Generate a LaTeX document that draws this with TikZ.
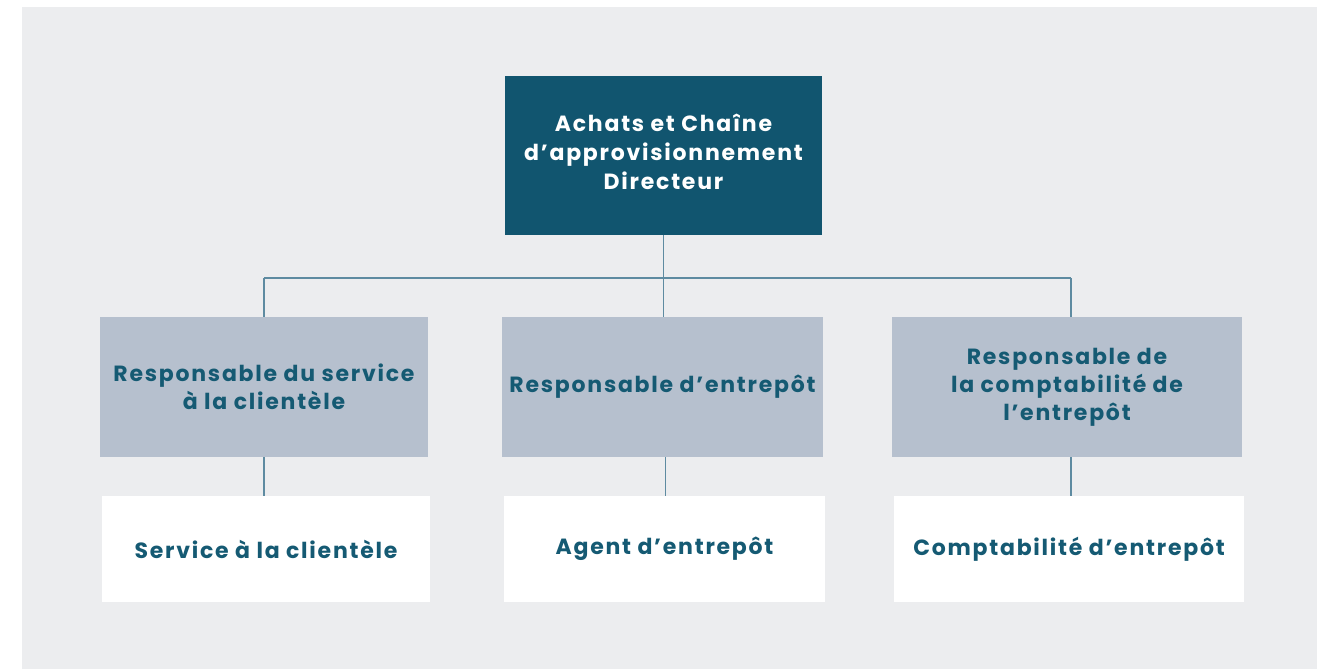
\documentclass[tikz,border=0pt]{standalone}
\usepackage{fontspec}
\setmainfont{Poppins}[LetterSpace=8]
\usetikzlibrary{positioning}
\definecolor{panelGray}{HTML}{ECEDEF}
\definecolor{headBlue}{HTML}{11556F}
\definecolor{midGray}{HTML}{B6C0CE}
\definecolor{textBlue}{HTML}{155A73}
\definecolor{lineBlue}{HTML}{5E8BA1}
\begin{document}
\begin{tikzpicture}[x=1pt, y=-1pt,
rectHead/.style={rectangle, fill=headBlue, text=white, minimum width=317pt, minimum height=159pt, text width=310pt, align=center, font=\bfseries\fontsize{22}{29}\selectfont},
rectManager/.style={rectangle, fill=midGray, text=textBlue, minimum height=140pt, align=center, font=\bfseries\fontsize{22}{28}\selectfont},
rectTeam/.style={rectangle, fill=white, text=textBlue, minimum height=106pt, align=center, font=\bfseries\fontsize{22}{28}\selectfont},
link/.style={draw=lineBlue, line width=1.2pt}
]

\useasboundingbox (0, 0) rectangle (1332, 670);
\fill[panelGray] (21.5, 7) rectangle (1317, 669);

\node[rectHead] (director) at (663.5, 155.5) {};
\node[text=white, align=center, font=\bfseries\fontsize{22}{29}\selectfont] (directorText) at (663.5, 151.5) {Achats et Chaîne\\d’approvisionnement\\Directeur};

\node[rectManager, minimum width=328pt] (mgrService) at (264, 387) {Responsable du service\\à la clientèle};
\node[rectManager, minimum width=321pt] (mgrWarehouse) at (662.5, 387) {Responsable d’entrepôt};
\node[rectManager, minimum width=350pt] (mgrAccounting) at (1067, 387) {Responsable de\\la comptabilité de\\l’entrepôt};

\node[rectTeam, minimum width=328pt] (teamService) at (266, 549) {Service à la clientèle};
\node[rectTeam, minimum width=321pt] (teamWarehouse) at (664.5, 549) {Agent d’entrepôt};
\node[rectTeam, minimum width=350pt] (teamAccounting) at (1069, 549) {Comptabilité d’entrepôt};

\coordinate (bus) at (663.5, 278);

\path[link] (director.south) -- (director.south |- mgrWarehouse.north)
			(mgrService.north |- bus) -- ([xshift=4pt]mgrAccounting.north |- bus)
			(mgrService.north |- bus) -- (mgrService.north)
			([xshift=4pt]mgrAccounting.north |- bus) -- ([xshift=4pt]mgrAccounting.north)
			(mgrService.south) -- (mgrService.south |- teamService.north)
			([xshift=3pt]mgrWarehouse.south) -- ([xshift=3pt]mgrWarehouse.south |- teamWarehouse.north)
			([xshift=4pt]mgrAccounting.south) -- ([xshift=4pt]mgrAccounting.south |- teamAccounting.north);

\end{tikzpicture}
\end{document}
